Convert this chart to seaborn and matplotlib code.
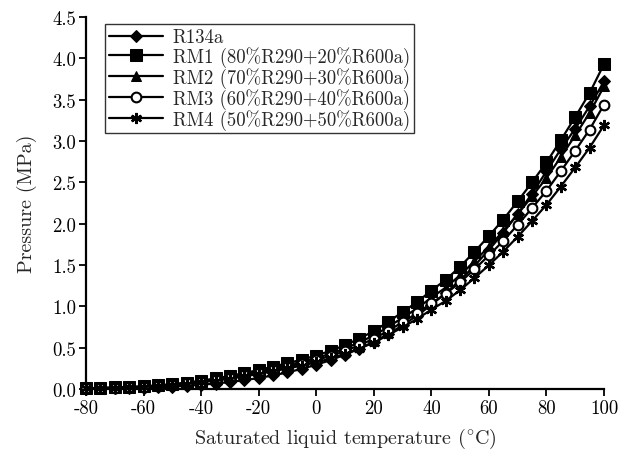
import matplotlib
matplotlib.use("Agg")
import matplotlib.pyplot as plt
import seaborn as sns
import pandas as pd

# Saturated liquid temperature (°C), every 5 degrees
temperature = list(range(-80, 101, 5))

# Saturation pressure (MPa) for each refrigerant
r134a = [0.004, 0.006, 0.008, 0.011, 0.016, 0.022, 0.029, 0.039, 0.051, 0.066, 0.084,
         0.106, 0.133, 0.164, 0.201, 0.244, 0.293, 0.350, 0.415, 0.488, 0.572, 0.665,
         0.770, 0.887, 1.017, 1.160, 1.318, 1.491, 1.682, 1.889, 2.117, 2.364, 2.633,
         2.900, 3.150, 3.420, 3.720]
rm1 = [0.010, 0.012, 0.018, 0.025, 0.032, 0.045, 0.058, 0.078, 0.100, 0.128, 0.158,
       0.192, 0.230, 0.270, 0.312, 0.355, 0.405, 0.462, 0.530, 0.610, 0.700, 0.810,
       0.930, 1.050, 1.190, 1.320, 1.480, 1.660, 1.850, 2.050, 2.270, 2.500, 2.740,
       3.010, 3.290, 3.580, 3.930]
rm2 = [0.009, 0.011, 0.016, 0.023, 0.029, 0.041, 0.053, 0.072, 0.092, 0.118, 0.146,
       0.177, 0.212, 0.249, 0.288, 0.328, 0.374, 0.427, 0.490, 0.564, 0.648, 0.750,
       0.862, 0.974, 1.105, 1.227, 1.377, 1.545, 1.722, 1.909, 2.114, 2.330, 2.553,
       2.805, 3.068, 3.340, 3.660]
rm3 = [0.008, 0.010, 0.015, 0.021, 0.027, 0.038, 0.049, 0.067, 0.086, 0.110, 0.136,
       0.165, 0.198, 0.233, 0.269, 0.307, 0.350, 0.400, 0.459, 0.529, 0.608, 0.704,
       0.809, 0.914, 1.037, 1.151, 1.291, 1.449, 1.616, 1.792, 1.985, 2.188, 2.398,
       2.635, 2.882, 3.138, 3.440]
rm4 = [0.008, 0.009, 0.014, 0.019, 0.025, 0.035, 0.045, 0.062, 0.079, 0.101, 0.125,
       0.152, 0.182, 0.214, 0.248, 0.283, 0.323, 0.369, 0.424, 0.489, 0.562, 0.651,
       0.748, 0.846, 0.960, 1.066, 1.196, 1.343, 1.498, 1.662, 1.842, 2.031, 2.228,
       2.449, 2.680, 2.919, 3.190]

labels = ["R134a", "RM1 (80%R290+20%R600a)", "RM2 (70%R290+30%R600a)",
          "RM3 (60%R290+40%R600a)", "RM4 (50%R290+50%R600a)"]
series = [r134a, rm1, rm2, rm3, rm4]

x_ticks = [-80, -60, -40, -20, 0, 20, 40, 60, 80, 100]
y_ticks = [0.0, 0.5, 1.0, 1.5, 2.0, 2.5, 3.0, 3.5, 4.0, 4.5]

sns.set_theme(style="ticks")
plt.rcParams["font.family"] = ["cmr10", "DejaVu Serif"]
plt.rcParams["mathtext.fontset"] = "cm"
plt.rcParams["axes.unicode_minus"] = False
plt.rcParams["axes.formatter.use_mathtext"] = True

fig = plt.figure(figsize=(6.21, 4.52), dpi=100)
ax = fig.add_axes([0.1385, 0.1372, 0.8341, 0.8230])

styles = [
    dict(marker="D", markersize=6, markerfacecolor="black"),
    dict(marker="s", markersize=8, markerfacecolor="black"),
    dict(marker="^", markersize=7.5, markerfacecolor="black"),
    dict(marker="o", markersize=7, markerfacecolor="white", markeredgewidth=1.5),
    dict(marker=(6, 2, 0), markersize=8, markeredgewidth=1.7),
]

for label, values, st in zip(labels, series, styles):
    df = pd.DataFrame({"t": temperature, "p": values})
    sns.lineplot(data=df, x="t", y="p", ax=ax, color="black", linewidth=1.6,
                 markeredgecolor="black", label=label, **st)

ax.set_xlim(-80, 100)
ax.set_ylim(0, 4.5)
ax.set_xticks(x_ticks)
ax.set_xticklabels([str(v) for v in x_ticks])
ax.set_yticks(y_ticks)
ax.set_yticklabels([f"{v:.1f}" for v in y_ticks])
ax.tick_params(axis="both", direction="out", length=5, width=1.3,
               labelsize=13.5, colors="black", pad=2)
for side in ("left", "bottom"):
    ax.spines[side].set_linewidth(1.6)
    ax.spines[side].set_color("black")
sns.despine(ax=ax)
for line in ax.lines:
    line.set_clip_on(False)

ax.set_xlabel(r"Saturated liquid temperature ($^{\circ}$C)", fontsize=14.5, labelpad=7)
ax.set_ylabel("Pressure (MPa)", fontsize=14.5, labelpad=11)

leg = ax.legend(loc="upper left", bbox_to_anchor=(0.03, 0.99), frameon=True,
                fancybox=False, shadow=False, fontsize=13.5, handlelength=2.9,
                borderpad=0.2, labelspacing=0.0, handletextpad=0.5,
                borderaxespad=0.2)
leg.get_frame().set_edgecolor("black")
leg.get_frame().set_linewidth(1.0)

fig.savefig("out.png", dpi=100)
